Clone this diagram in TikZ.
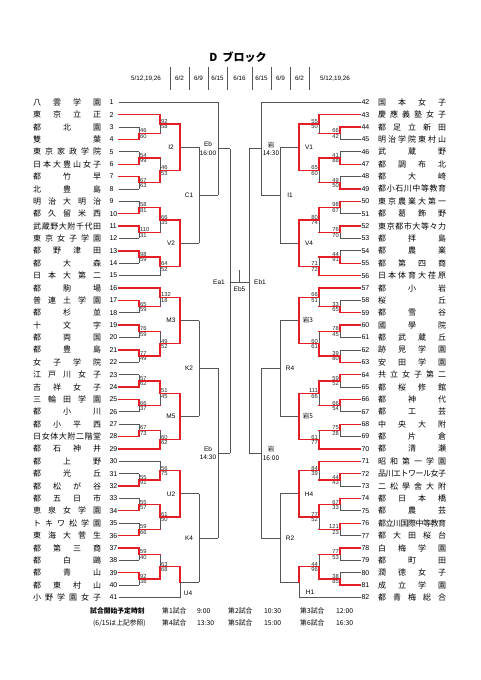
\documentclass[tikz,border=0pt]{standalone}
\usepackage{fontspec}
\setmainfont{Liberation Sans}
\newfontfamily\jp{Noto Sans CJK JP}
\definecolor{myred}{RGB}{228,30,38}
\definecolor{mygray}{RGB}{85,85,85}
\newif\ifsc
\newcommand\yo[1]{\csname y@#1\endcsname}
\def\spreadA#1{#1\futurelet\spnext\spreadB}
\def\spreadB{\ifx\spnext\relax\expandafter\spreadEnd\else\hss\expandafter\spreadA\fi}
\def\spreadEnd\relax{}
\newcommand\nm[1]{\hbox to 68pt{\spreadA#1\relax}}
\tikzset{
  declare function={ty(\i)=102.3+(\i-1)*12.38; tr(\i)=102.3+(\i-42)*12.38;},
  rdline/.style={draw=myred,line width=1.3pt,line cap=rect},
  gyline/.style={draw=mygray,line width=0.8pt},
  top t/.style=rd, bot t/.style=gy, out t/.style=rd,
  top b/.style=gy, bot b/.style=rd, out b/.style=rd,
  top n/.style=gy, bot n/.style=gy, out n/.style=gy,
  top r/.style=rd, bot r/.style=rd, out r/.style=gy,
  top p/.style=rd, bot p/.style=gy, out p/.style=gy,
  sc/.style={inner sep=0.3pt,font=\fontsize{5.8}{6}\selectfont,text=black!85},
  scTl/.style={anchor=south west,xshift=0.6pt},
  scBl/.style={anchor=north west,xshift=0.6pt,yshift=-0.3pt},
  scTr/.style={anchor=south east,xshift=-0.6pt},
  scBr/.style={anchor=north east,xshift=-0.6pt,yshift=-0.3pt},
  nmX/.style={anchor=west,inner sep=0pt,font=\jp\fontsize{8}{9}\selectfont},
  numX/.style={anchor=west,inner sep=0pt,font=\fontsize{7}{8}\selectfont},
  gl/.style={inner sep=0pt,font=\fontsize{6.5}{8.5}\selectfont,align=center},
  hd/.style={inner sep=0pt,font=\fontsize{6.3}{7}\selectfont},
  ft/.style={inner sep=0pt,anchor=west,font=\jp\fontsize{6.8}{8}\selectfont},
}
% game: name, x, ytop, ybot, xnext, code, topscore, botscore, side(l/r)
\newcommand\gm[9]{%
  \pgfmathsetmacro\ta{#3}\pgfmathsetmacro\tb{#4}\pgfmathsetmacro\tm{(\ta+\tb)/2}%
  \expandafter\xdef\csname y@#1\endcsname{\tm}%
  \draw[top #6] (#2,\ta) -- (#2,\tm);
  \draw[bot #6] (#2,\tm) -- (#2,\tb);
  \draw[out #6] (#2,\tm) -- (#5,\tm);
  \ifsc
    \node[sc,scT#9] (s#1t) at (#2,\tm) {#7};
    \node[sc,scB#9] (s#1b) at (#2,\tm) {#8};
  \fi}
\newcommand\tlL[3]{\pgfmathsetmacro\ta{ty(#1)}\draw[#3] (118.5,\ta) -- (#2,\ta);}
\newcommand\tlR[3]{\pgfmathsetmacro\ta{tr(#1)}\draw[#3] (360.5,\ta) -- (#2,\ta);}
\newcommand\tnL[2]{\pgfmathsetmacro\ta{ty(#1)}\node[nmX] (tn#1) at (33,\ta) {\nm{#2}};\node[numX] (tk#1) at (109.3,\ta) {#1};}
\newcommand\tnR[2]{\pgfmathsetmacro\ta{tr(#1)}\node[nmX] (tn#1) at (378,\ta) {\nm{#2}};\node[numX] (tk#1) at (361.3,\ta) {#1};}

\newcommand\allgames{%
% ---- left team lines
\tlL{1}{218}{gy}\tlL{2}{160}{rd}\tlL{3}{139}{gy}\tlL{4}{139}{rd}\tlL{5}{139}{gy}
\tlL{6}{139}{rd}\tlL{7}{139}{rd}\tlL{8}{139}{gy}\tlL{9}{139}{gy}\tlL{10}{139}{rd}
\tlL{11}{139}{rd}\tlL{12}{139}{gy}\tlL{13}{139}{rd}\tlL{14}{139}{gy}\tlL{15}{160}{gy}
\tlL{16}{160}{rd}\tlL{17}{139}{rd}\tlL{18}{139}{gy}\tlL{19}{139}{rd}\tlL{20}{139}{gy}
\tlL{21}{139}{rd}\tlL{22}{139}{gy}\tlL{23}{139}{gy}\tlL{24}{139}{rd}\tlL{25}{139}{rd}
\tlL{26}{139}{gy}\tlL{27}{139}{gy}\tlL{28}{139}{rd}\tlL{29}{160}{rd}\tlL{30}{160}{gy}
\tlL{31}{139}{gy}\tlL{32}{139}{rd}\tlL{33}{139}{gy}\tlL{34}{139}{rd}\tlL{35}{139}{gy}
\tlL{36}{139}{rd}\tlL{37}{139}{rd}\tlL{38}{139}{gy}\tlL{39}{139}{rd}\tlL{40}{139}{gy}
\tlL{41}{180}{gy}
% ---- right team lines
\tlR{42}{261}{gy}\tlR{43}{319}{rd}\tlR{44}{340}{rd}\tlR{45}{340}{gy}\tlR{46}{340}{gy}
\tlR{47}{340}{rd}\tlR{48}{340}{gy}\tlR{49}{340}{rd}\tlR{50}{340}{rd}\tlR{51}{340}{gy}
\tlR{52}{340}{rd}\tlR{53}{340}{gy}\tlR{54}{340}{gy}\tlR{55}{340}{rd}\tlR{56}{319}{rd}
\tlR{57}{319}{rd}\tlR{58}{340}{gy}\tlR{59}{340}{rd}\tlR{60}{340}{rd}\tlR{61}{340}{gy}
\tlR{62}{340}{gy}\tlR{63}{340}{rd}\tlR{64}{340}{rd}\tlR{65}{340}{gy}\tlR{66}{340}{rd}
\tlR{67}{340}{gy}\tlR{68}{340}{rd}\tlR{69}{340}{gy}\tlR{70}{319}{rd}\tlR{71}{319}{rd}
\tlR{72}{340}{rd}\tlR{73}{340}{gy}\tlR{74}{340}{rd}\tlR{75}{340}{gy}\tlR{76}{340}{rd}
\tlR{77}{340}{gy}\tlR{78}{340}{rd}\tlR{79}{340}{gy}\tlR{80}{340}{gy}\tlR{81}{340}{rd}
\tlR{82}{299}{gy}
% ---- left games
\gm{a34}{139}{ty(3)}{ty(4)}{160}{b}{46}{60}{l}
\gm{a24}{160}{ty(2)}{\yo{a34}}{180}{t}{92}{58}{l}
\gm{a56}{139}{ty(5)}{ty(6)}{160}{b}{54}{99}{l}
\gm{a78}{139}{ty(7)}{ty(8)}{160}{t}{67}{63}{l}
\gm{a58}{160}{\yo{a56}}{\yo{a78}}{180}{b}{46}{53}{l}
\gm{I2}{180}{\yo{a24}}{\yo{a58}}{199}{r}{}{}{l}
\gm{a910}{139}{ty(9)}{ty(10)}{160}{b}{58}{81}{l}
\gm{a1112}{139}{ty(11)}{ty(12)}{160}{t}{110}{31}{l}
\gm{a912}{160}{\yo{a910}}{\yo{a1112}}{180}{t}{66}{35}{l}
\gm{a1314}{139}{ty(13)}{ty(14)}{160}{t}{98}{59}{l}
\gm{a1315}{160}{\yo{a1314}}{ty(15)}{180}{t}{64}{52}{l}
\gm{V2}{180}{\yo{a912}}{\yo{a1315}}{199}{r}{}{}{l}
\gm{C1}{199}{\yo{I2}}{\yo{V2}}{218}{n}{}{}{l}
\gm{Eb16}{218}{ty(1)}{\yo{C1}}{230}{n}{}{}{l}
\gm{a1718}{139}{ty(17)}{ty(18)}{160}{t}{65}{59}{l}
\gm{a1618}{160}{ty(16)}{\yo{a1718}}{180}{t}{132}{18}{l}
\gm{a1920}{139}{ty(19)}{ty(20)}{160}{t}{76}{59}{l}
\gm{a2122}{139}{ty(21)}{ty(22)}{160}{t}{77}{49}{l}
\gm{a1922}{160}{\yo{a1920}}{\yo{a2122}}{180}{b}{49}{52}{l}
\gm{M3}{180}{\yo{a1618}}{\yo{a1922}}{199}{r}{}{}{l}
\gm{a2324}{139}{ty(23)}{ty(24)}{160}{b}{57}{62}{l}
\gm{a2526}{139}{ty(25)}{ty(26)}{160}{t}{66}{37}{l}
\gm{a2326}{160}{\yo{a2324}}{\yo{a2526}}{180}{t}{51}{45}{l}
\gm{a2728}{139}{ty(27)}{ty(28)}{160}{b}{67}{73}{l}
\gm{a2729}{160}{\yo{a2728}}{ty(29)}{180}{b}{60}{62}{l}
\gm{M5}{180}{\yo{a2326}}{\yo{a2729}}{199}{r}{}{}{l}
\gm{K2}{199}{\yo{M3}}{\yo{M5}}{218}{n}{}{}{l}
\gm{a3132}{139}{ty(31)}{ty(32)}{160}{b}{55}{91}{l}
\gm{a3032}{160}{ty(30)}{\yo{a3132}}{180}{b}{56}{75}{l}
\gm{a3334}{139}{ty(33)}{ty(34)}{160}{b}{55}{57}{l}
\gm{a3536}{139}{ty(35)}{ty(36)}{160}{b}{59}{66}{l}
\gm{a3336}{160}{\yo{a3334}}{\yo{a3536}}{180}{t}{61}{50}{l}
\gm{U2}{180}{\yo{a3032}}{\yo{a3336}}{199}{r}{}{}{l}
\gm{a3738}{139}{ty(37)}{ty(38)}{160}{t}{59}{40}{l}
\gm{a3940}{139}{ty(39)}{ty(40)}{160}{t}{92}{38}{l}
\gm{a3740}{160}{\yo{a3738}}{\yo{a3940}}{180}{b}{63}{68}{l}
\gm{U4}{180}{\yo{a3740}}{ty(41)}{199}{p}{}{}{l}
\gm{K4}{199}{\yo{U2}}{\yo{U4}}{218}{n}{}{}{l}
\gm{Eb14}{218}{\yo{K2}}{\yo{K4}}{230}{n}{}{}{l}
% ---- right games
\gm{b4445}{340}{tr(44)}{tr(45)}{319}{t}{66}{42}{r}
\gm{b4345}{319}{tr(43)}{\yo{b4445}}{299}{t}{55}{50}{r}
\gm{b4647}{340}{tr(46)}{tr(47)}{319}{b}{41}{88}{r}
\gm{b4849}{340}{tr(48)}{tr(49)}{319}{b}{49}{50}{r}
\gm{b4649}{319}{\yo{b4647}}{\yo{b4849}}{299}{t}{65}{60}{r}
\gm{V1}{299}{\yo{b4345}}{\yo{b4649}}{280}{r}{}{}{r}
\gm{b5051}{340}{tr(50)}{tr(51)}{319}{t}{98}{67}{r}
\gm{b5253}{340}{tr(52)}{tr(53)}{319}{t}{76}{70}{r}
\gm{b5053}{319}{\yo{b5051}}{\yo{b5253}}{299}{t}{80}{74}{r}
\gm{b5455}{340}{tr(54)}{tr(55)}{319}{b}{44}{91}{r}
\gm{b5456}{319}{\yo{b5455}}{tr(56)}{299}{b}{71}{72}{r}
\gm{V4}{299}{\yo{b5053}}{\yo{b5456}}{280}{r}{}{}{r}
\gm{I1}{280}{\yo{V1}}{\yo{V4}}{261}{n}{}{}{r}
\gm{Iw14}{261}{tr(42)}{\yo{I1}}{249}{n}{}{}{r}
\gm{b5859}{340}{tr(58)}{tr(59)}{319}{b}{33}{65}{r}
\gm{b5759}{319}{tr(57)}{\yo{b5859}}{299}{t}{66}{51}{r}
\gm{b6061}{340}{tr(60)}{tr(61)}{319}{t}{78}{45}{r}
\gm{b6263}{340}{tr(62)}{tr(63)}{319}{b}{39}{80}{r}
\gm{b6063}{319}{\yo{b6061}}{\yo{b6263}}{299}{b}{60}{61}{r}
\gm{W3}{299}{\yo{b5759}}{\yo{b6063}}{280}{r}{}{}{r}
\gm{b6465}{340}{tr(64)}{tr(65)}{319}{t}{59}{52}{r}
\gm{b6667}{340}{tr(66)}{tr(67)}{319}{t}{66}{54}{r}
\gm{b6467}{319}{\yo{b6465}}{\yo{b6667}}{299}{t}{111}{66}{r}
\gm{b6869}{340}{tr(68)}{tr(69)}{319}{t}{75}{28}{r}
\gm{b6870}{319}{\yo{b6869}}{tr(70)}{299}{b}{61}{77}{r}
\gm{W5}{299}{\yo{b6467}}{\yo{b6870}}{280}{r}{}{}{r}
\gm{R4}{280}{\yo{W3}}{\yo{W5}}{261}{n}{}{}{r}
\gm{b7273}{340}{tr(72)}{tr(73)}{319}{t}{44}{43}{r}
\gm{b7173}{319}{tr(71)}{\yo{b7273}}{299}{t}{84}{39}{r}
\gm{b7475}{340}{tr(74)}{tr(75)}{319}{t}{67}{33}{r}
\gm{b7677}{340}{tr(76)}{tr(77)}{319}{t}{121}{23}{r}
\gm{b7477}{319}{\yo{b7475}}{\yo{b7677}}{299}{t}{77}{52}{r}
\gm{H4}{299}{\yo{b7173}}{\yo{b7477}}{280}{r}{}{}{r}
\gm{b7879}{340}{tr(78)}{tr(79)}{319}{t}{77}{53}{r}
\gm{b8081}{340}{tr(80)}{tr(81)}{319}{b}{38}{85}{r}
\gm{b7881}{319}{\yo{b7879}}{\yo{b8081}}{299}{b}{44}{96}{r}
\gm{H1}{299}{\yo{b7881}}{tr(82)}{280}{p}{}{}{r}
\gm{R2}{280}{\yo{H4}}{\yo{H1}}{261}{n}{}{}{r}
\gm{Iw16}{261}{\yo{R4}}{\yo{R2}}{249}{n}{}{}{r}
}

\begin{document}
\begin{tikzpicture}[x=1pt,y=-1pt]
\useasboundingbox (0,0) rectangle (481,680);
\fill[white] (0,0) rectangle (481,680);
% title
\node[inner sep=0pt,font=\jp\bfseries\fontsize{11}{12}\selectfont] (title) at (238,57) {D\ \ ブロック};
% header
\foreach \xx in {170,189,208,227,252,271,290,309} \draw[mygray,line width=0.5pt] (\xx,67) -- (\xx,90);
\node[hd] (h1) at (146,78.5) {5/12,19,26};
\node[hd] (h2) at (179.5,78.5) {6/2};
\node[hd] (h3) at (198.5,78.5) {6/9};
\node[hd] (h4) at (217.5,78.5) {6/15};
\node[hd] (h5) at (239.5,78.5) {6/16};
\node[hd] (h6) at (261.5,78.5) {6/15};
\node[hd] (h7) at (280.5,78.5) {6/9};
\node[hd] (h8) at (299.5,78.5) {6/2};
\node[hd] (h9) at (335,78.5) {5/12,19,26};
% names
\tnL{1}{八雲学園}\tnL{2}{東京立正}\tnL{3}{都北園}\tnL{4}{雙葉}\tnL{5}{東京家政学院}
\tnL{6}{日本大豊山女子}\tnL{7}{都竹早}\tnL{8}{北豊島}\tnL{9}{明治大明治}\tnL{10}{都久留米西}
\tnL{11}{武蔵野大附千代田}\tnL{12}{東京女子学園}\tnL{13}{都野津田}\tnL{14}{都大森}\tnL{15}{日本大第二}
\tnL{16}{都駒場}\tnL{17}{普連土学園}\tnL{18}{都杉並}\tnL{19}{十文字}\tnL{20}{都両国}
\tnL{21}{都豊島}\tnL{22}{女子学院}\tnL{23}{江戸川女子}\tnL{24}{吉祥女子}\tnL{25}{三輪田学園}
\tnL{26}{都小川}\tnL{27}{都小平西}\tnL{28}{日女体大附二階堂}\tnL{29}{都石神井}\tnL{30}{都上野}
\tnL{31}{都光丘}\tnL{32}{都松が谷}\tnL{33}{都五日市}\tnL{34}{恵泉女学園}\tnL{35}{トキワ松学園}
\tnL{36}{東海大菅生}\tnL{37}{都第三商}\tnL{38}{都白鷗}\tnL{39}{都青山}\tnL{40}{都東村山}
\tnL{41}{小野学園女子}
\tnR{42}{国本女子}\tnR{43}{慶應義塾女子}\tnR{44}{都足立新田}\tnR{45}{明治学院東村山}\tnR{46}{武蔵野}
\tnR{47}{都調布北}\tnR{48}{都大崎}\tnR{49}{都小石川中等教育}\tnR{50}{東京農業大第一}\tnR{51}{都葛飾野}
\tnR{52}{東京都市大等々力}\tnR{53}{都拝島}\tnR{54}{都農業}\tnR{55}{都第四商}\tnR{56}{日本体育大荏原}
\tnR{57}{都小岩}\tnR{58}{桜丘}\tnR{59}{都雪谷}\tnR{60}{國學院}\tnR{61}{都武蔵丘}
\tnR{62}{跡見学園}\tnR{63}{安田学園}\tnR{64}{共立女子第二}\tnR{65}{都桜修館}\tnR{66}{都神代}
\tnR{67}{都工芸}\tnR{68}{中央大附}\tnR{69}{都片倉}\tnR{70}{都清瀬}\tnR{71}{昭和第一学園}
\tnR{72}{品川エトワール女子}\tnR{73}{二松學舍大附}\tnR{74}{都日本橋}\tnR{75}{都農芸}\tnR{76}{都立川国際中等教育}
\tnR{77}{都大田桜台}\tnR{78}{白梅学園}\tnR{79}{都町田}\tnR{80}{潤徳女子}\tnR{81}{成立学園}
\tnR{82}{都青梅総合}
% bracket: gray pass, then red pass
\begin{scope}[rd/.style={draw=none},gy/.style={gyline}]\sctrue\allgames\end{scope}
\begin{scope}[rd/.style={rdline},gy/.style={draw=none}]\scfalse\allgames\end{scope}
% semifinal and final
\coordinate (ea1t) at (230,\yo{Eb16}); \coordinate (ea1b) at (230,\yo{Eb14});
\coordinate (eb1t) at (249,\yo{Iw14}); \coordinate (eb1b) at (249,\yo{Iw16});
\draw[gyline] (ea1t) -- (ea1b);
\draw[gyline] (eb1t) -- (eb1b);
\coordinate (fL) at (230,282); \coordinate (fR) at (249,282);
\coordinate (fM) at (239.5,282); \coordinate (fT) at (239.5,270);
\draw[gyline] (fL) -- (fR);
\draw[gyline] (fM) -- (fT);
% game labels
\node[gl] (lI2) at (171,\yo{I2}) {I2};
\node[gl] (lV2) at (171,\yo{V2}) {V2};
\node[gl] (lC1) at (189,\yo{C1}) {C1};
\node[gl] (lEb16) at (208,\yo{Eb16}) {Eb\\16:00};
\node[gl] (lM3) at (171,\yo{M3}) {M3};
\node[gl] (lM5) at (171,\yo{M5}) {M5};
\node[gl] (lK2) at (189,\yo{K2}) {K2};
\node[gl] (lU2) at (171,\yo{U2}) {U2};
\node[gl] (lU4) at (188,593) {U4};
\node[gl] (lK4) at (189,\yo{K4}) {K4};
\node[gl] (lEb14) at (208,\yo{Eb14}) {Eb\\14:30};
\node[gl] (lEa1) at (219,282) {Ea1};
\node[gl] (lEb5) at (239.5,289) {Eb5};
\node[gl] (lEb1) at (260,282) {Eb1};
\node[gl] (lV1) at (309,\yo{V1}) {V1};
\node[gl] (lV4) at (309,\yo{V4}) {V4};
\node[gl] (lI1) at (290,\yo{I1}) {I1};
\node[gl,font=\jp\fontsize{6.5}{8.5}\selectfont] (lIw14) at (271,\yo{Iw14}) {岩\\14:30};
\node[gl,font=\jp\fontsize{6.5}{8.5}\selectfont] (lW3) at (308,\yo{W3}) {岩3};
\node[gl,font=\jp\fontsize{6.5}{8.5}\selectfont] (lW5) at (308,\yo{W5}) {岩5};
\node[gl] (lR4) at (290,\yo{R4}) {R4};
\node[gl] (lH4) at (309,\yo{H4}) {H4};
\node[gl] (lH1) at (310,592) {H1};
\node[gl] (lR2) at (290,\yo{R2}) {R2};
\node[gl,font=\jp\fontsize{6.5}{8.5}\selectfont] (lIw16) at (271,\yo{Iw16}) {岩\\16:00};
% footer
\node[ft,font=\jp\bfseries\fontsize{6.8}{8}\selectfont] (f1) at (90,611) {試合開始予定時刻};
\node[ft] (f2) at (162,611) {第1試合};
\node[ft] (f3) at (197,611) {9:00};
\node[ft] (f4) at (228,611) {第2試合};
\node[ft] (f5) at (264,611) {10:30};
\node[ft] (f6) at (300,611) {第3試合};
\node[ft] (f7) at (336,611) {12:00};
\node[ft] (g1) at (93,623) {(6/15は上記参照)};
\node[ft] (g2) at (162,623) {第4試合};
\node[ft] (g3) at (197,623) {13:30};
\node[ft] (g4) at (228,623) {第5試合};
\node[ft] (g5) at (264,623) {15:00};
\node[ft] (g6) at (300,623) {第6試合};
\node[ft] (g7) at (336,623) {16:30};
\end{tikzpicture}
\end{document}
